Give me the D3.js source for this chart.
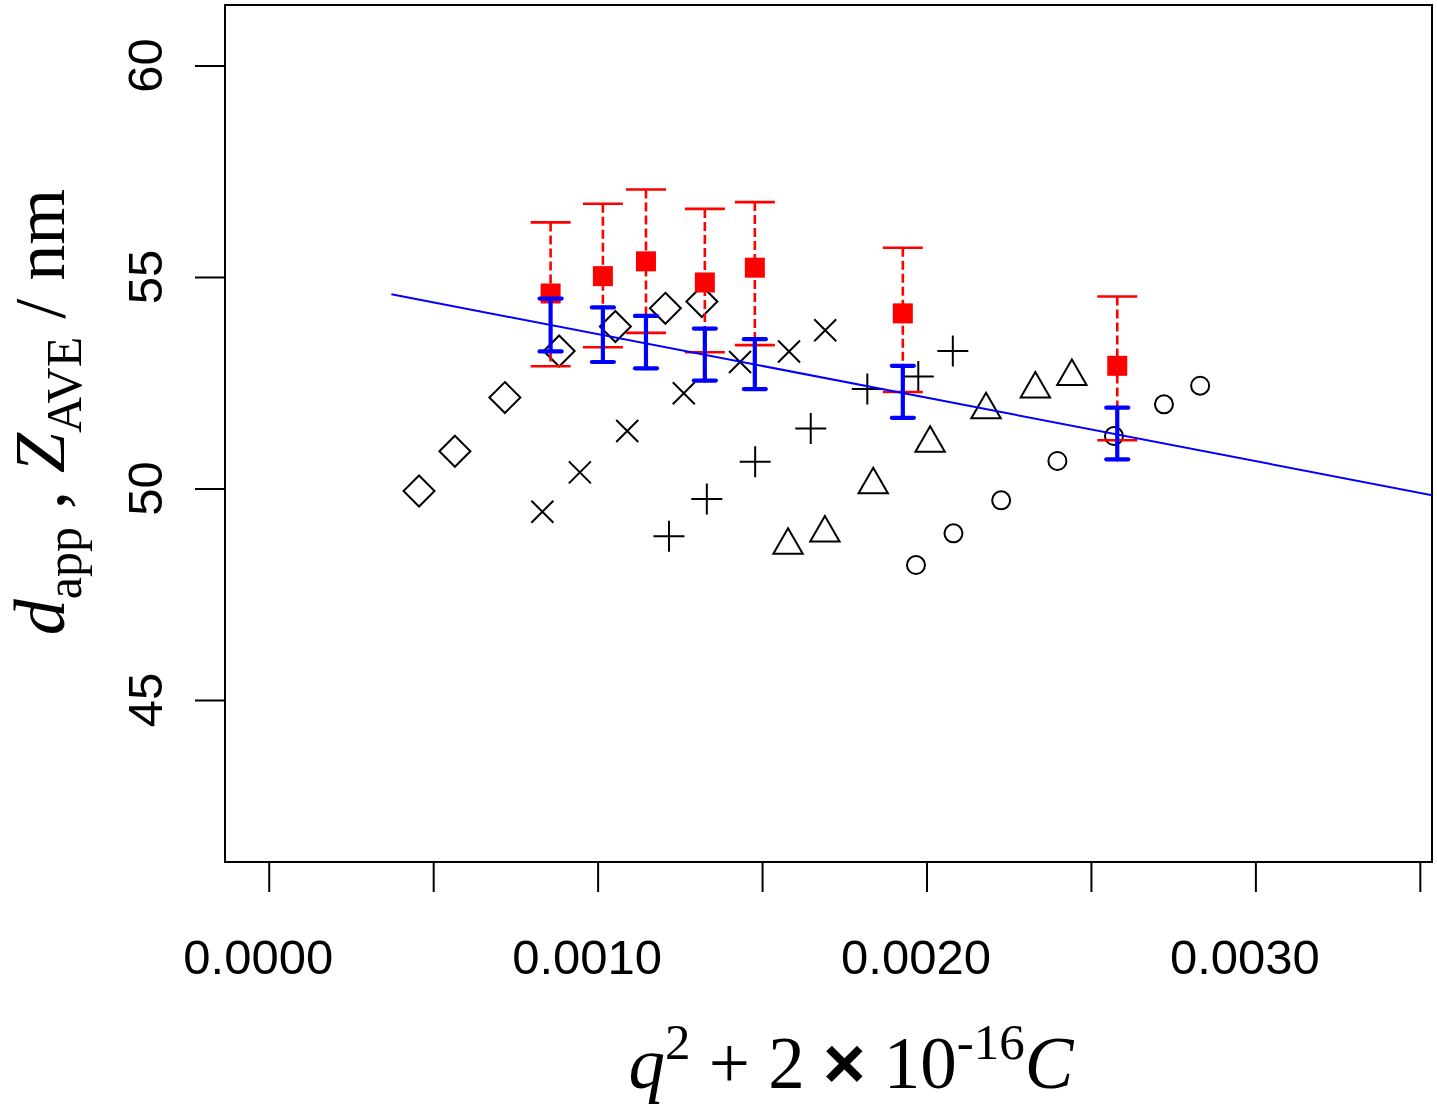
<!DOCTYPE html>
<html>
<head>
<meta charset="utf-8">
<script src="https://cdn.jsdelivr.net/npm/d3@7"></script>
<style>
  html, body { margin: 0; padding: 0; background: #fff; }
  svg { display: block; }
</style>
</head>
<body>
<svg id="chart" width="1437" height="1109"></svg>
<script>
// ---------------- data ----------------
const xTicks = [0, 0.0005, 0.0010, 0.0015, 0.0020, 0.0025, 0.0030, 0.0035];
const xTickLabels = ["0.0000", "", "0.0010", "", "0.0020", "", "0.0030", ""];
const yTicks = [45, 50, 55, 60];
const yTickLabels = ["45", "50", "55", "60"];

// open diamonds
const diamondX = [0.000457, 0.000566, 0.000718, 0.000883, 0.001054, 0.001206, 0.001317];
const diamondY = [49.94, 50.88, 52.15, 53.25, 53.83, 54.26, 54.42];
// crosses (x)
const crossX = [0.000832, 0.000946, 0.001090, 0.001262, 0.001433, 0.001582, 0.001692];
const crossY = [49.45, 50.38, 51.36, 52.25, 52.99, 53.24, 53.74];
// plus signs
const plusX = [0.001217, 0.001332, 0.001479, 0.001648, 0.001820, 0.001975, 0.002080];
const plusY = [48.87, 49.75, 50.63, 51.42, 52.35, 52.65, 53.25];
// open triangles
const triX = [0.001579, 0.001691, 0.001838, 0.002011, 0.002181, 0.002331, 0.002442];
const triY = [48.66, 48.95, 50.09, 51.07, 51.86, 52.35, 52.65];
// open circles
const circX = [0.001968, 0.002082, 0.002227, 0.002398, 0.002570, 0.002722, 0.002832];
const circY = [48.19, 48.94, 49.72, 50.65, 51.24, 51.99, 52.43];

// d_app (red squares, dashed error bars)
const dappX  = [0.000857, 0.001016, 0.001147, 0.001326, 0.001478, 0.001928, 0.002580];
const dappY  = [54.61, 55.02, 55.37, 54.87, 55.22, 54.14, 52.90];
const dappHi = [56.29, 56.73, 57.07, 56.61, 56.77, 55.69, 54.54];
const dappLo = [52.89, 53.34, 53.68, 53.22, 53.39, 52.28, 51.14];
// Z_AVE (blue error bars)
const zaveHi = [54.49, 54.28, 54.08, 53.78, 53.53, 52.90, 51.91];
const zaveLo = [53.24, 52.99, 52.84, 52.55, 52.35, 51.67, 50.69];

// fitted line
const fitIntercept = 55.15;
const fitSlope = -1501;
const fitXRange = [0.000373, 0.0036];

// ---------------- layout ----------------
const svg = d3.select("#chart");
const box = { left: 225, right: 1432, top: 5, bottom: 862 };
const x = d3.scaleLinear().domain([-0.000133, 0.003537]).range([box.left, box.right]);
const y = d3.scaleLinear().domain([41.17, 61.43]).range([box.bottom, box.top]);

svg.append("clipPath").attr("id", "plotclip")
  .append("rect")
  .attr("x", box.left).attr("y", box.top)
  .attr("width", box.right - box.left).attr("height", box.bottom - box.top);

// ---------------- axes ----------------
const xAxis = d3.axisBottom(x)
  .tickValues(xTicks)
  .tickSize(30)
  .tickPadding(47)
  .tickFormat((d, i) => xTickLabels[i]);
const gx = svg.append("g").attr("transform", `translate(0,${box.bottom})`).call(xAxis);
gx.select(".domain").remove();
gx.selectAll(".tick line").attr("stroke", "#000").attr("stroke-width", 2);
gx.selectAll(".tick text")
  .attr("x", -11)
  .attr("font-family", "'Liberation Sans', Arial, sans-serif")
  .attr("font-size", 49).attr("fill", "#000");

const yAxis = d3.axisLeft(y).tickValues(yTicks).tickSize(30).tickFormat("");
const gy = svg.append("g").attr("transform", `translate(${box.left},0)`).call(yAxis);
gy.select(".domain").remove();
gy.selectAll(".tick line").attr("stroke", "#000").attr("stroke-width", 2);

svg.append("g").selectAll("text")
  .data(yTicks)
  .join("text")
  .attr("transform", d => `translate(162,${y(d)}) rotate(-90)`)
  .attr("text-anchor", "middle")
  .attr("font-family", "'Liberation Sans', Arial, sans-serif")
  .attr("font-size", 49).attr("fill", "#000")
  .text((d, i) => yTickLabels[i]);

// plot box
svg.append("rect")
  .attr("x", box.left).attr("y", box.top)
  .attr("width", box.right - box.left).attr("height", box.bottom - box.top)
  .attr("fill", "none").attr("stroke", "#000").attr("stroke-width", 2);

// ---------------- point series ----------------
const zip = (xs, ys) => xs.map((v, i) => ({ x: v, y: ys[i] }));
const gp = svg.append("g").attr("fill", "none").attr("stroke", "#000").attr("stroke-width", 2);

// diamonds
gp.selectAll(".dia").data(zip(diamondX, diamondY)).join("path")
  .attr("d", d => { const cx = x(d.x), cy = y(d.y), r = 15.5;
    return `M${cx},${cy - r}L${cx + r},${cy}L${cx},${cy + r}L${cx - r},${cy}Z`; });
// crosses
gp.selectAll(".crs").data(zip(crossX, crossY)).join("path")
  .attr("d", d => { const cx = x(d.x), cy = y(d.y), r = 11;
    return `M${cx - r},${cy - r}L${cx + r},${cy + r}M${cx - r},${cy + r}L${cx + r},${cy - r}`; });
// plus
gp.selectAll(".pls").data(zip(plusX, plusY)).join("path")
  .attr("d", d => { const cx = x(d.x), cy = y(d.y), r = 15.5;
    return `M${cx - r},${cy}L${cx + r},${cy}M${cx},${cy - r}L${cx},${cy + r}`; });
// triangles (point at centroid)
gp.selectAll(".tri").data(zip(triX, triY)).join("path")
  .attr("d", d => { const cx = x(d.x), cy = y(d.y), h = 25.5, hw = 14.7;
    return `M${cx},${cy - h * 2 / 3}L${cx + hw},${cy + h / 3}L${cx - hw},${cy + h / 3}Z`; });
// circles
gp.selectAll(".cir").data(zip(circX, circY)).join("circle")
  .attr("cx", d => x(d.x)).attr("cy", d => y(d.y)).attr("r", 9);

// ---------------- d_app red ----------------
const gr = svg.append("g");
const dapp = dappX.map((v, i) => ({ x: v, y: dappY[i], hi: dappHi[i], lo: dappLo[i] }));
gr.selectAll(".rv").data(dapp).join("line")
  .attr("x1", d => x(d.x)).attr("x2", d => x(d.x))
  .attr("y1", d => y(d.hi)).attr("y2", d => y(d.lo))
  .attr("stroke", "#ff0000").attr("stroke-width", 2.6).attr("stroke-dasharray", "9,4");
gr.selectAll(".rc1").data(dapp).join("line")
  .attr("x1", d => x(d.x) - 20).attr("x2", d => x(d.x) + 20)
  .attr("y1", d => y(d.hi)).attr("y2", d => y(d.hi))
  .attr("stroke", "#ff0000").attr("stroke-width", 2.6);
gr.selectAll(".rc2").data(dapp).join("line")
  .attr("x1", d => x(d.x) - 20).attr("x2", d => x(d.x) + 20)
  .attr("y1", d => y(d.lo)).attr("y2", d => y(d.lo))
  .attr("stroke", "#ff0000").attr("stroke-width", 2.6);
gr.selectAll(".rs").data(dapp).join("rect")
  .attr("x", d => x(d.x) - 10).attr("y", d => y(d.y) - 10)
  .attr("width", 20).attr("height", 20).attr("fill", "#ff0000");

// ---------------- Z_AVE blue ----------------
const gb = svg.append("g").attr("stroke", "#0000ff").attr("stroke-width", 4.2).attr("stroke-linecap", "round");
const zave = dappX.map((v, i) => ({ x: v, hi: zaveHi[i], lo: zaveLo[i] }));
gb.selectAll(".bv").data(zave).join("line")
  .attr("x1", d => x(d.x)).attr("x2", d => x(d.x))
  .attr("y1", d => y(d.hi)).attr("y2", d => y(d.lo));
gb.selectAll(".bc1").data(zave).join("line")
  .attr("x1", d => x(d.x) - 11).attr("x2", d => x(d.x) + 11)
  .attr("y1", d => y(d.hi)).attr("y2", d => y(d.hi));
gb.selectAll(".bc2").data(zave).join("line")
  .attr("x1", d => x(d.x) - 11).attr("x2", d => x(d.x) + 11)
  .attr("y1", d => y(d.lo)).attr("y2", d => y(d.lo));

// ---------------- fit line ----------------
svg.append("line")
  .attr("clip-path", "url(#plotclip)")
  .attr("x1", x(fitXRange[0])).attr("y1", y(fitIntercept + fitSlope * fitXRange[0]))
  .attr("x2", x(fitXRange[1])).attr("y2", y(fitIntercept + fitSlope * fitXRange[1]))
  .attr("stroke", "#0000ff").attr("stroke-width", 2);

// ---------------- axis titles ----------------
const serif = "'Liberation Serif', 'Times New Roman', serif";
const xt = svg.append("text")
  .attr("x", 851).attr("y", 1088)
  .attr("text-anchor", "middle")
  .attr("font-family", serif).attr("font-size", 73).attr("fill", "#000");
xt.append("tspan").attr("font-style", "italic").text("q");
xt.append("tspan").attr("font-size", 51).attr("dy", -29).text("2");
xt.append("tspan").attr("dy", 29).text(" + 2 ");
xt.append("tspan").attr("font-family", "'Liberation Sans', Arial, sans-serif").attr("font-weight", "bold").text("\u00D7");
xt.append("tspan").text(" 10");
xt.append("tspan").attr("font-size", 51).attr("dy", -29).text("-16");
xt.append("tspan").attr("dy", 29).attr("font-style", "italic").text("C");

const yt = svg.append("text")
  .attr("transform", "translate(64,412) rotate(-90)")
  .attr("text-anchor", "middle")
  .attr("font-family", serif).attr("font-size", 72).attr("fill", "#000");
yt.append("tspan").attr("font-style", "italic").text("d");
yt.append("tspan").attr("font-size", 50).attr("dy", 17).text("app");
yt.append("tspan").attr("dy", -17).text(" , ");
yt.append("tspan").attr("font-style", "italic").text("Z");
yt.append("tspan").attr("font-size", 50).attr("dy", 17).text("AVE");
yt.append("tspan").attr("dy", -17).text(" / nm");
</script>
</body>
</html>
